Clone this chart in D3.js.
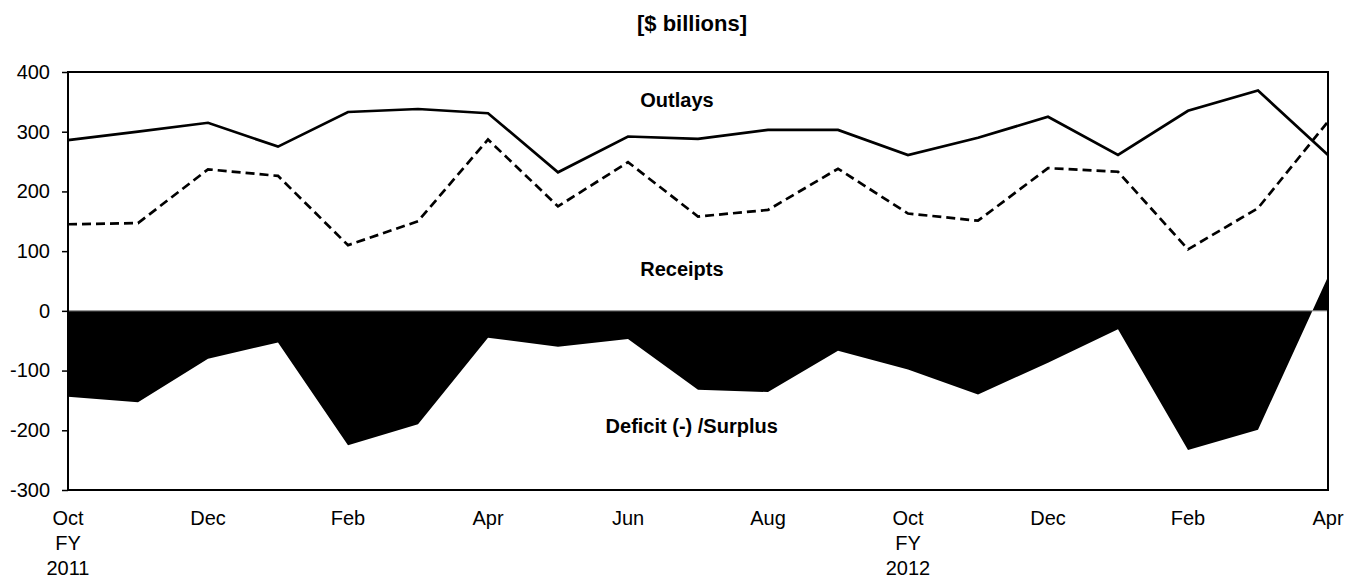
<!DOCTYPE html>
<html>
<head>
<meta charset="utf-8">
<script src="https://cdn.jsdelivr.net/npm/d3@7"></script>
<style>
  html, body { margin: 0; padding: 0; background: #fff; }
  svg { display: block; }
  text { font-family: "Liberation Sans", Arial, sans-serif; fill: #000; }
</style>
</head>
<body>
<svg id="chart" width="1352" height="578"></svg>
<script>
// Monthly data, Oct 2010 (FY2011) through Apr 2012 (FY2012), $ billions
const months = ["Oct","Nov","Dec","Jan","Feb","Mar","Apr","May","Jun","Jul","Aug","Sep",
                "Oct","Nov","Dec","Jan","Feb","Mar","Apr"];
const outlays  = [286, 300, 315, 275, 333, 338, 331, 232, 292, 288, 303, 303,
                  261, 290, 325, 261, 335, 369, 261];
const receipts = [145, 147, 237, 226, 110, 150, 287, 175, 249, 158, 169, 238,
                  163, 151, 239, 233, 103, 172, 317];
const deficit  = [-144, -153, -80, -53, -225, -190, -45, -60, -47, -132, -136, -67,
                  -98, -140, -87, -31, -233, -199, 57];
const yTicks = [-300, -200, -100, 0, 100, 200, 300, 400];
// x tick labels: [index, lines]
const xTickLabels = [
  [0, ["Oct", "FY", "2011"]], [2, ["Dec"]], [4, ["Feb"]], [6, ["Apr"]],
  [8, ["Jun"]], [10, ["Aug"]], [12, ["Oct", "FY", "2012"]], [14, ["Dec"]],
  [16, ["Feb"]], [18, ["Apr"]]
];
const seriesLabels = [
  {text: "Outlays", value: 342, idx: 8.7},
  {text: "Receipts", value: 58, idx: 8.77},
  {text: "Deficit (-) /Surplus", value: -204, idx: 8.91}
];

const svg = d3.select("#chart");
const mLeft = 68, mRight = 1328, mTop = 72, mBottom = 490;

const x = d3.scaleLinear().domain([0, months.length - 1]).range([mLeft, mRight]);
const y = d3.scaleLinear().domain([-300, 400]).range([mBottom, mTop]);

// Title
svg.append("text").attr("x", 692).attr("y", 31).attr("text-anchor", "middle")
  .style("font-size", "22px").style("font-weight", "bold").text("[$ billions]");

// Deficit area
svg.append("path")
  .datum(deficit)
  .attr("fill", "#000")
  .attr("d", d3.area().x((d, i) => x(i)).y0(y(0)).y1(d => y(d)));

// Zero line
svg.append("line").attr("x1", mLeft).attr("x2", mRight).attr("y1", y(0)).attr("y2", y(0))
  .attr("stroke", "#888").attr("stroke-width", 1);

const line = d3.line().x((d, i) => x(i)).y(d => y(d));

svg.append("path").datum(outlays)
  .attr("fill", "none").attr("stroke", "#000").attr("stroke-width", 2.7)
  .attr("stroke-linejoin", "miter").attr("d", line);

svg.append("path").datum(receipts)
  .attr("fill", "none").attr("stroke", "#000").attr("stroke-width", 2.7)
  .attr("stroke-dasharray", "9,5").attr("d", line);

// Frame
svg.append("rect").attr("x", mLeft).attr("y", mTop).attr("width", mRight - mLeft).attr("height", mBottom - mTop)
  .attr("fill", "none").attr("stroke", "#000").attr("stroke-width", 2);

// Y axis
const yAxis = svg.append("g").attr("transform", `translate(${mLeft},0)`)
  .call(d3.axisLeft(y).tickValues(yTicks).tickSize(6).tickPadding(12).tickFormat(d => String(d)));
yAxis.select(".domain").remove();
yAxis.selectAll(".tick line").attr("stroke", "#000").attr("stroke-width", 1.5);
yAxis.selectAll(".tick text").style("font-size", "20px").style("font-family", "'Liberation Sans', Arial, sans-serif")
  .attr("fill", "#000");

// X labels
const xg = svg.append("g");
xTickLabels.forEach(([i, lines]) => {
  const t = xg.append("text").attr("x", x(i)).attr("y", 525).attr("text-anchor", "middle")
    .style("font-size", "20px");
  lines.forEach((s, k) => {
    t.append("tspan").attr("x", x(i)).attr("dy", k === 0 ? 0 : 25).text(s);
  });
});

// Series labels
seriesLabels.forEach(l => {
  svg.append("text").attr("x", x(l.idx)).attr("y", y(l.value)).attr("text-anchor", "middle")
    .style("font-size", "20px").style("font-weight", "bold").text(l.text);
});
</script>
</body>
</html>
